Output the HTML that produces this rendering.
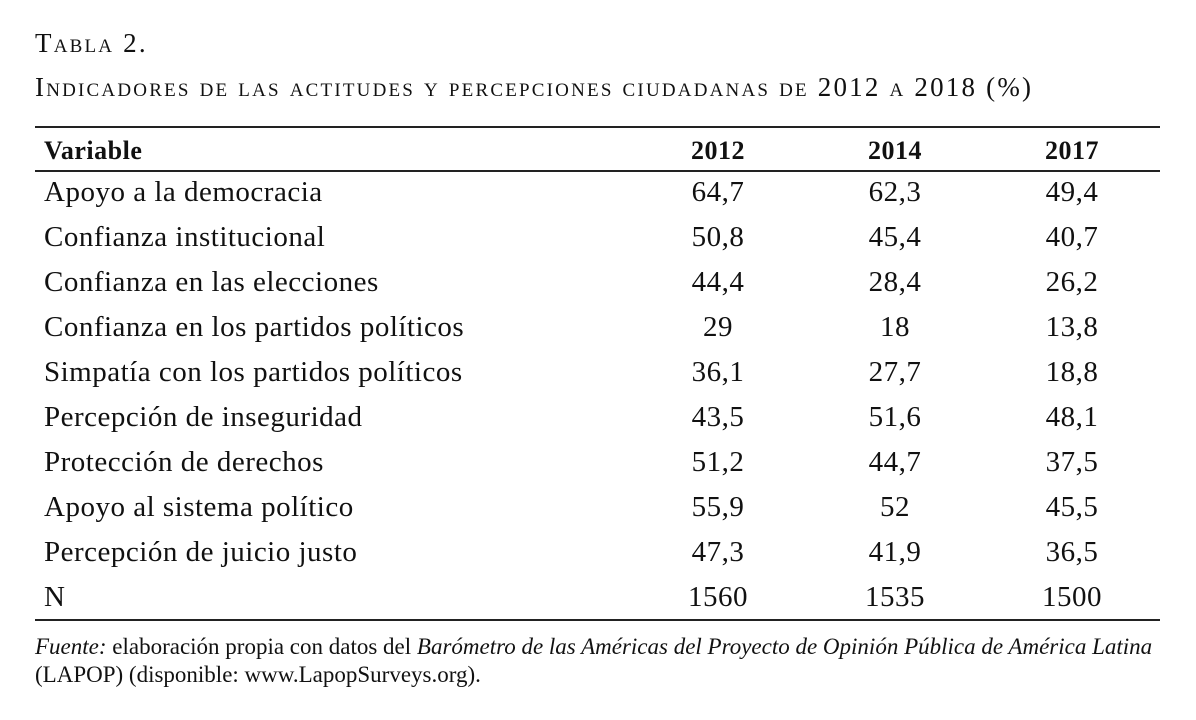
<!DOCTYPE html>
<html><head><meta charset="utf-8"><style>
body{margin:0;width:1196px;height:720px;background:#fff;font-family:"Liberation Serif",serif;color:#111;position:relative;overflow:hidden}
.t{position:absolute;left:35px;font-size:27px;font-variant:small-caps;letter-spacing:2.2px;white-space:nowrap}
.rule{position:absolute;left:35px;width:1125px;height:1.5px;background:#222}
.r{position:absolute;left:0;width:1196px;height:45px;line-height:45px;font-size:29px;letter-spacing:0.5px;white-space:nowrap}
.r span{position:absolute;top:0}
.v{left:44px}
.c{width:140px;text-align:center}
.a{left:648px}.b{left:825px}.d{left:1002px}
.h{font-weight:bold;font-size:26px}
.f{position:absolute;left:35px;font-size:23px;letter-spacing:0px;white-space:nowrap}
</style></head><body>
<div class="t" style="top:28px">Tabla 2.</div>
<div class="t" style="top:72px">Indicadores de las actitudes y percepciones ciudadanas de 2012 a 2018 (%)</div>
<div class="rule" style="top:126px"></div>
<div class="r h" style="top:128px"><span class="v">Variable</span><span class="c a">2012</span><span class="c b">2014</span><span class="c d">2017</span></div>
<div class="rule" style="top:170px"></div>
<div class="r" style="top:170px"><span class="v">Apoyo a la democracia</span><span class="c a">64,7</span><span class="c b">62,3</span><span class="c d">49,4</span></div>
<div class="r" style="top:215px"><span class="v">Confianza institucional</span><span class="c a">50,8</span><span class="c b">45,4</span><span class="c d">40,7</span></div>
<div class="r" style="top:260px"><span class="v">Confianza en las elecciones</span><span class="c a">44,4</span><span class="c b">28,4</span><span class="c d">26,2</span></div>
<div class="r" style="top:305px"><span class="v">Confianza en los partidos políticos</span><span class="c a">29</span><span class="c b">18</span><span class="c d">13,8</span></div>
<div class="r" style="top:350px"><span class="v">Simpatía con los partidos políticos</span><span class="c a">36,1</span><span class="c b">27,7</span><span class="c d">18,8</span></div>
<div class="r" style="top:395px"><span class="v">Percepción de inseguridad</span><span class="c a">43,5</span><span class="c b">51,6</span><span class="c d">48,1</span></div>
<div class="r" style="top:440px"><span class="v">Protección de derechos</span><span class="c a">51,2</span><span class="c b">44,7</span><span class="c d">37,5</span></div>
<div class="r" style="top:485px"><span class="v">Apoyo al sistema político</span><span class="c a">55,9</span><span class="c b">52</span><span class="c d">45,5</span></div>
<div class="r" style="top:530px"><span class="v">Percepción de juicio justo</span><span class="c a">47,3</span><span class="c b">41,9</span><span class="c d">36,5</span></div>
<div class="r" style="top:575px"><span class="v">N</span><span class="c a">1560</span><span class="c b">1535</span><span class="c d">1500</span></div>
<div class="rule" style="top:619px"></div>
<div class="f" style="top:634px"><i>Fuente:</i> elaboración propia con datos del <i>Barómetro de las Américas del Proyecto de Opinión Pública de América Latina</i></div>
<div class="f" style="top:662px">(LAPOP) (disponible: www.LapopSurveys.org).</div>
</body></html>
